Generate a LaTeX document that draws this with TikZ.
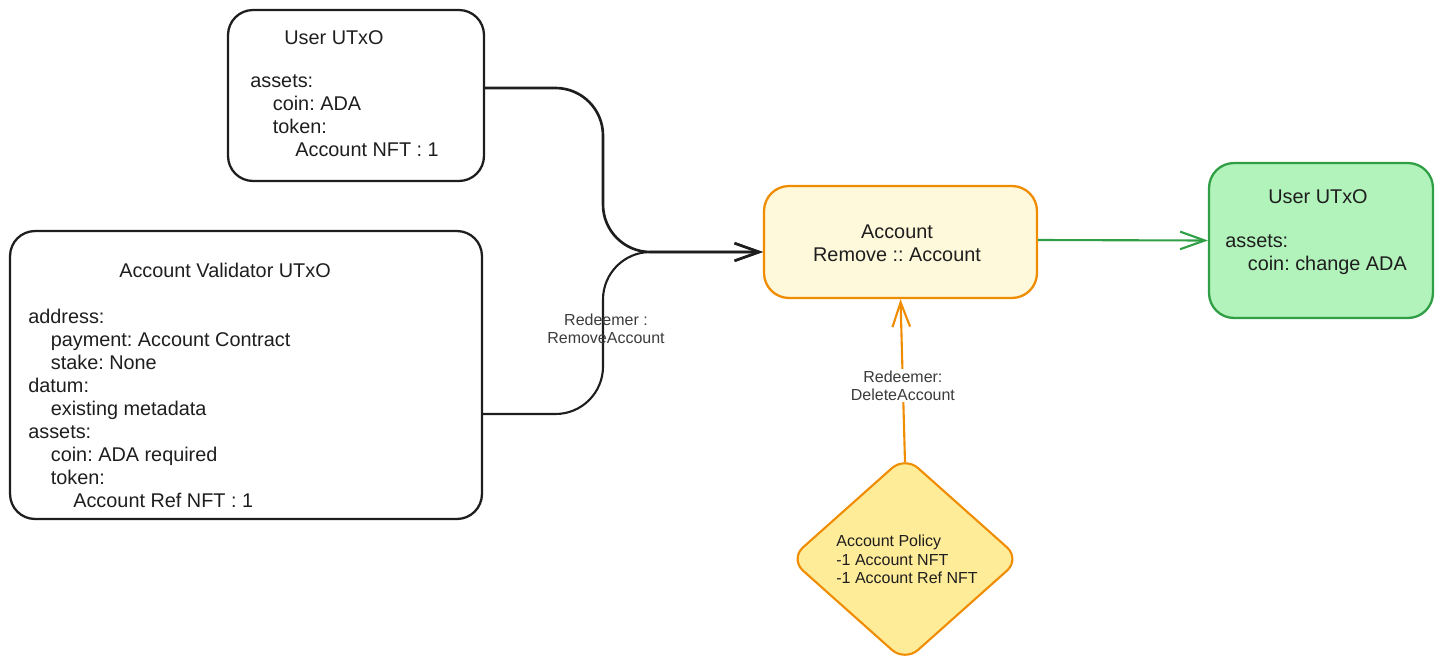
\documentclass[tikz,border=0pt]{standalone}
\usepackage{fontspec}
\setmainfont{Liberation Sans}
\usepackage{xcolor}
\usetikzlibrary{arrows.meta,shapes.geometric,positioning}
\definecolor{inkcolor}{RGB}{30,30,30}
\definecolor{labelcolor}{RGB}{60,60,60}
\definecolor{accorange}{HTML}{F08C00}
\definecolor{accfill}{HTML}{FFF9DB}
\definecolor{policyfill}{HTML}{FFEC99}
\definecolor{outgreen}{HTML}{2F9E44}
\definecolor{outfill}{HTML}{B2F2BB}
\tikzset{
  utxo/.style={draw=inkcolor, line width=1.3pt, rounded corners=0.5cm, inner sep=0pt},
  txt/.style={text=inkcolor, font=\fontsize{11.3}{13.1}\selectfont, align=left, inner sep=0pt},
  lbl/.style={text=labelcolor, font=\fontsize{9.1}{10.3}\selectfont, align=center, inner sep=1pt},
  barb/.style={-{Straight Barb[length=14pt,width=10pt]}}
}
\newcommand{\ind}{\hspace*{12.8pt}}
\frenchspacing

\begin{document}
\begin{tikzpicture}[x=0.02cm,y=-0.02cm]
        \useasboundingbox (0,0) rectangle (1443,670);

        % UTxO boxes
        \node[utxo, minimum width=5.12cm, minimum height=3.42cm] (uin) at (356,95.5) {};
        \node[utxo, minimum width=9.44cm, minimum height=5.76cm] (val) at (246,375) {};
        \node[utxo, draw=accorange, fill=accfill, minimum width=5.46cm, minimum height=2.24cm] (acc) at (900.5,242) {};
        \node[utxo, draw=outgreen, fill=outfill, minimum width=4.48cm, minimum height=3.1cm] (uout) at (1321,240.5) {};
        \node[diamond, draw=accorange, line width=1.2pt, fill=policyfill, rounded corners=0.35cm,
              minimum width=4.62cm, minimum height=4.12cm, inner sep=0pt] (pol) at (905,559) {};

        % Box texts
        \node[txt] (uin-title) at (334,38) {User UTxO};
        \node[txt, anchor=west] (uin-body) at (250,116)
          {assets:\\\ind coin: ADA\\\ind token:\\\ind\ind Account NFT : 1};
        \node[txt] (val-title) at (225,270) {Account Validator UTxO};
        \node[txt, anchor=west] (val-body) at (28,408)
          {address:\\\ind payment: Account Contract\\\ind stake: None\\datum:\\\ind existing metadata\\
           assets:\\\ind coin: ADA required\\\ind token:\\\ind\ind Account Ref NFT : 1};
        \node[txt, align=center] (acc-text) at (897,243.5) {Account\\Remove :: Account};
        \node[txt] (uout-title) at (1318,197) {User UTxO};
        \node[txt, anchor=west] (uout-body) at (1225,254.5) {assets:\\\ind coin: change ADA};
        \node[txt, anchor=west, font=\fontsize{9.1}{10.5}\selectfont] (pol-text) at (836,559.5)
          {Account Policy\\-1 Account NFT\\-1 Account Ref NFT};

        % Connectors
        \coordinate (merge) at (603,252);
        \draw[barb, inkcolor, line width=1.5pt, rounded corners=0.95cm]
          ([yshift=0.15cm]uin.east) -| (merge) -- ([yshift=-0.2cm]acc.west);
        \draw[barb, inkcolor, line width=1.2pt, rounded corners=0.95cm]
          ([yshift=-0.78cm]val.east) -| (merge) -- ([yshift=-0.2cm]acc.west);
        \node[lbl] (redeemer-remove) at (606,329) {Redeemer :\\RemoveAccount};
        \draw[barb, outgreen, line width=1.2pt] ([yshift=0.04cm]acc.east) -- (uout.west);
        \draw[barb, accorange, line width=1.2pt] ([yshift=-0.15cm]pol.north) --
          node[lbl, fill=white, pos=0.47] (redeemer-delete) {Redeemer:\\DeleteAccount} (acc.south);
      \end{tikzpicture}
\end{document}
